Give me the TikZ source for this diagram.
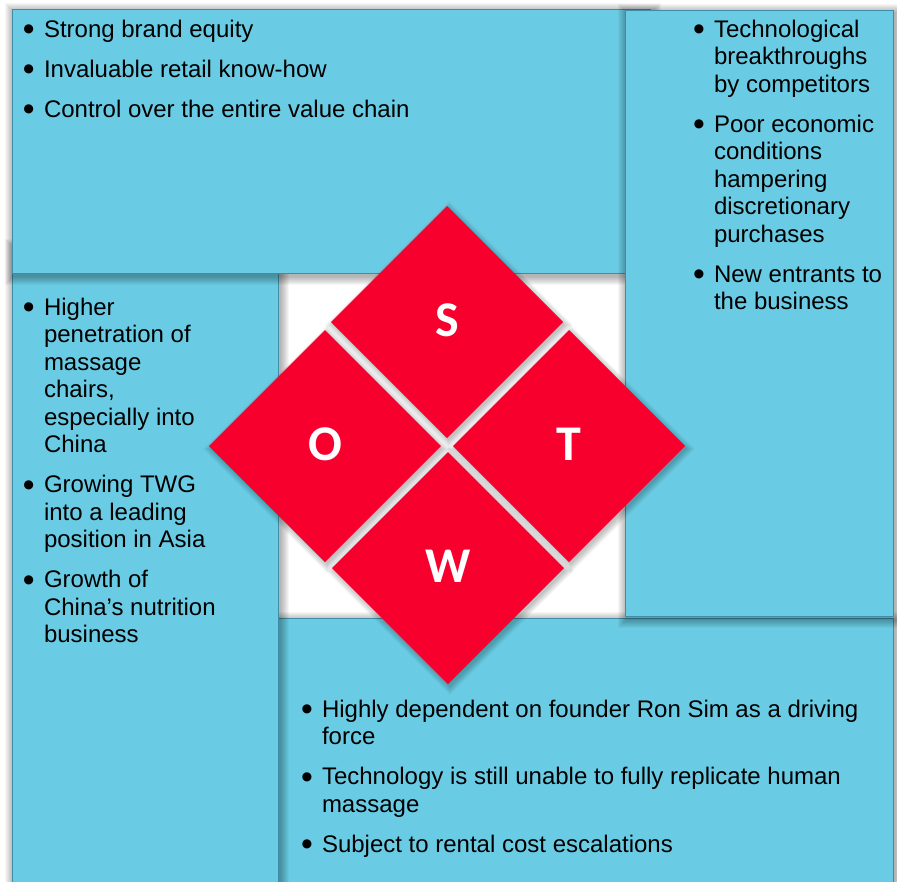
\documentclass[tikz,border=0pt]{standalone}
\usepackage{fontspec}
\setmainfont{Liberation Sans}
\newfontfamily\swotletterfont{Carlito}
\usetikzlibrary{shapes.geometric}

\definecolor{panelblue}{RGB}{106,204,228}
\definecolor{panelline}{RGB}{62,140,165}
\definecolor{swotred}{RGB}{247,0,45}

% a slightly enlarged bullet sitting on the text line
\newcommand\swotbullet{\raisebox{-3.5pt}[0pt][0pt]{\scalebox{1.4}{\textbullet}}}
% one bulleted point with a hanging indent
\newcommand\swotpoint[1]{\par\hangindent=21pt\hangafter=1\noindent\hbox to 21pt{\swotbullet\hss}#1\par}
% a list of points, baseline at the first line
\newcommand\swotlist[2]{\parbox[t]{#1}{\fontsize{24}{27.5}\selectfont\setlength\parskip{12.5pt}\raggedright #2}}

% soft shadow behind a panel (corners x1,y1 and x2,y2)
\newcommand\panelshadow[4]{%
  \foreach \k in {1,...,9}{%
    \fill[black,opacity=0.035] ({#1+2-\k},{#2+3-\k}) rectangle ({#3+2+\k},{#4+3+\k});}}
% soft shadow behind a quadrant diamond centred at x,y
\newcommand\quadshadow[2]{%
  \foreach \k in {1,...,7}{%
    \pgfmathsetmacro\rr{114+1.4*\k}%
    \fill[black,opacity=0.035] ({#1+2},{#2+3-\rr}) -- ({#1+2+\rr},{#2+3}) -- ({#1+2},{#2+3+\rr}) -- ({#1+2-\rr},{#2+3}) -- cycle;}}

\tikzset{
  panel/.style={fill=panelblue, draw=panelline, line width=1pt},
  quad/.style={diamond, aspect=1, minimum width=232pt, minimum height=232pt,
    inner sep=0pt, outer sep=0pt, fill=swotred, text=white,
    font=\swotletterfont\bfseries\fontsize{50}{50}\selectfont},
  pointlist/.style={anchor=base west, inner sep=0pt, outer sep=0pt}
}

\begin{document}
\begin{tikzpicture}[x=1pt,y=-1pt]
\useasboundingbox (0,0) rectangle (897,881);
\fill[white] (0,0) rectangle (897,881);

% weaknesses panel (bottom)
\panelshadow{260}{618}{893}{920}
\path[panel] (260,618) rectangle (893,920);
% opportunities panel (left)
\panelshadow{12}{245}{278}{920}
\path[panel] (12,245) rectangle (278,920);
% strengths panel (top)
\panelshadow{12}{9}{650}{273}
\path[panel] (12,9) rectangle (650,273);
% threats panel (right)
\panelshadow{625}{10}{893}{616}
\path[panel] (625,10) rectangle (893,616);

% central diamond made of four quadrants
\quadshadow{447}{322}
\quadshadow{325}{446}
\quadshadow{569}{446}
\quadshadow{448}{568}
\node[quad] (S) at (447,322) {\raisebox{3pt}{S}};
\node[quad] (O) at (325,446) {\raisebox{3pt}{O}};
\node[quad] (T) at (569,446) {\raisebox{3pt}{T}};
\node[quad] (W) at (448,568) {\raisebox{3pt}{W}};

% strengths
\node[pointlist] (strengths) at (23,37) {\swotlist{600pt}{%
  \swotpoint{Strong brand equity}
  \swotpoint{Invaluable retail know-how}
  \swotpoint{Control over the entire value chain}}};

% threats
\node[pointlist] (threats) at (693,37) {\swotlist{260pt}{%
  \swotpoint{Technological\newline breakthroughs\newline by competitors}
  \swotpoint{Poor economic\newline conditions\newline hampering\newline discretionary\newline purchases}
  \swotpoint{New entrants to\newline the business}}};

% opportunities
\node[pointlist] (opportunities) at (23,315) {\swotlist{260pt}{%
  \swotpoint{Higher\newline penetration of\newline massage\newline chairs,\newline especially into\newline China}
  \swotpoint{Growing TWG\newline into a leading\newline position in Asia}
  \swotpoint{Growth of\newline China’s nutrition\newline business}}};

% weaknesses
\node[pointlist] (weaknesses) at (301,717) {\swotlist{600pt}{%
  \swotpoint{Highly dependent on founder Ron Sim as a driving\newline force}
  \swotpoint{Technology is still unable to fully replicate human\newline massage}
  \swotpoint{Subject to rental cost escalations}}};
\end{tikzpicture}
\end{document}
